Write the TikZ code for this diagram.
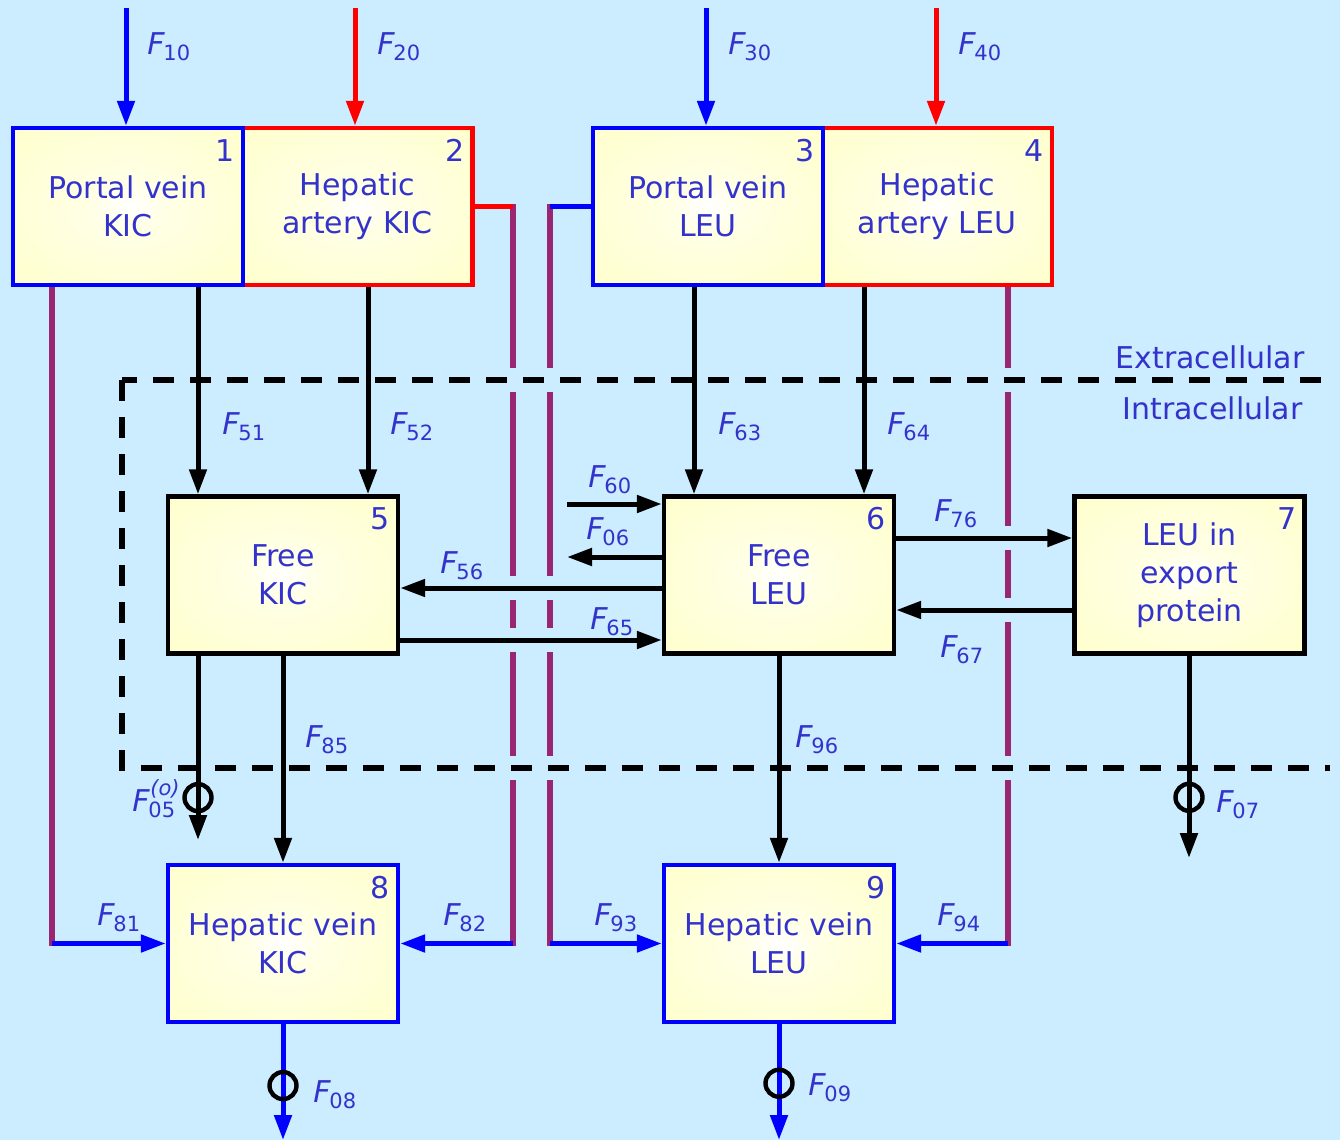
\documentclass[tikz,border=0pt]{standalone}
\usepackage{fontspec}
\setmainfont{DejaVu Sans}
\usepackage{xcolor}
\usepackage{tikz}
\usetikzlibrary{arrows.meta, positioning, calc}

\definecolor{skyback}{RGB}{204,236,255}
\definecolor{inkblue}{RGB}{51,51,204}
\definecolor{boxcream}{RGB}{255,255,204}
\definecolor{vesselpurple}{RGB}{153,38,115}

\pgfdeclareradialshading{creamglow}{\pgfpointorigin}{color(0bp)=(white); color(8bp)=(white!50!boxcream); color(36bp)=(boxcream); color(70bp)=(boxcream)}

\pgfdeclarelayer{back}
\pgfsetlayers{back,main}

% flux label F_{ij}
\newcommand{\flux}[1]{\textit{F}\kern-0.8pt\raisebox{-3pt}{\fontsize{10.5}{11}\selectfont #1}}

\begin{document}
\begin{tikzpicture}[x=0.5pt, y=-0.5pt,
	compart/.style={rectangle, line width=2.2pt, minimum width=115pt, minimum height=78.5pt,
		shade, shading=creamglow, font=\fontsize{15}{19}\selectfont, text=inkblue,
		align=center, inner sep=0pt},
	boxno/.style={anchor=north east, inner sep=0pt, text=inkblue, font=\fontsize{15}{19}\selectfont},
	flab/.style={inner sep=0pt, text=inkblue, font=\fontsize{15}{18}\selectfont},
	flow/.style={line width=2.5pt, -{Triangle[length=12.5pt,width=8.5pt]}},
	kflow/.style={flow, draw=black},
	bflow/.style={flow, draw=blue},
	rflow/.style={flow, draw=red},
	ring/.style={circle, draw=black, line width=2.2pt, minimum size=13.5pt, inner sep=0pt},
	vessel/.style={draw=vesselpurple, line width=2.6pt, line cap=rect},
	cellwall/.style={draw=black, line width=2.6pt, dash pattern=on 10.5pt off 8pt},
	gap/.style={draw=skyback, line width=12pt},
	]
	\useasboundingbox (0,0) rectangle (1340,1140);

	% arterial / portal inflow compartments
	\node[compart, draw=red] (b2) at (357.5,206.5) {Hepatic\\artery KIC};
	\node[compart, draw=blue] (b1) at (128,206.5) {Portal vein\\KIC};
	\node[compart, draw=red] (b4) at (937,206.5) {Hepatic\\artery LEU};
	\node[compart, draw=blue] (b3) at (708,206.5) {Portal vein\\LEU};
	% intracellular compartments
	\node[compart, draw=black] (b5) at (283,575) {Free\\KIC};
	\node[compart, draw=black] (b6) at (779,575) {Free\\LEU};
	\node[compart, draw=black] (b7) at (1189.5,575) {LEU in\\export\\protein};
	% hepatic vein
	\node[compart, draw=blue] (b8) at (283,943.5) {Hepatic vein\\KIC};
	\node[compart, draw=blue] (b9) at (779,943.5) {Hepatic vein\\LEU};

	\foreach \i in {1,...,9}
		\node[boxno] (n\i) at ([xshift=-5pt,yshift=-6.5pt]b\i.north east) {\i};

	% helper coordinates
	\coordinate (c10) at (126,8);
	\coordinate (c20) at (355,8);
	\coordinate (c30) at (706,8);
	\coordinate (c40) at (936,8);
	\coordinate (c51) at (198,0);
	\coordinate (c52) at (368,0);
	\coordinate (c63) at (694,0);
	\coordinate (c64) at (864,0);
	\coordinate (y56) at (0,588);
	\coordinate (y65) at (0,640);
	\coordinate (y76) at (0,538);
	\coordinate (y67) at (0,610);
	\coordinate (s60) at (567,504);
	\coordinate (e06) at (567,557);
	\coordinate (e05) at (198,840);
	\coordinate (e07) at (1189,858);
	\coordinate (e08) at (283,1140);
	\coordinate (e09) at (779,1140);
	\coordinate (v81) at (52,943.5);
	\coordinate (v82) at (513,943.5);
	\coordinate (v93) at (550,943.5);
	\coordinate (v94) at (1008,943.5);
	\coordinate (w1) at (122,380);
	\coordinate (w2) at (122,768);
	\coordinate (w3) at (1336,380);
	\coordinate (w4) at (1330,768);

	% background, shunt vessels and their crossing gaps
	\begin{pgfonlayer}{back}
		\fill[skyback] (0,0) rectangle (1340,1140);
		\draw[vessel] (b1.south -| v81) -- (v81);
		\draw[vessel] (v82 |- b2.east) -- (v82);
		\draw[vessel] (v93 |- b3.west) -- (v93);
		\draw[vessel] (b4.south -| v94) -- (v94);
		\draw[gap] (w3) -- (w1) -- (w2) -- (w4);
		\draw[gap] (b6.west |- y56) -- (b5.east |- y56);
		\draw[gap] (b5.east |- y65) -- (b6.west |- y65);
		\draw[gap] (b6.east |- y76) -- (b7.west |- y76);
		\draw[gap] (b7.west |- y67) -- (b6.east |- y67);
	\end{pgfonlayer}

	% cell membrane
	\draw[cellwall, dash phase=3pt] (w1) -- (w3);
	\draw[cellwall] (w1) -- (w2) -- (w4);
	\node[flab, anchor=east] (extra) at (1305,357) {Extracellular};
	\node[flab, anchor=east] (intra) at (1303,408) {Intracellular};

	% inputs
	\draw[bflow] (c10) -- (c10 |- b1.north);
	\draw[rflow] (c20) -- (c20 |- b2.north);
	\draw[bflow] (c30) -- (c30 |- b3.north);
	\draw[rflow] (c40) -- (c40 |- b4.north);
	\draw[red, line width=2.3pt] (b2.east) -- (v82 |- b2.east);
	\draw[blue, line width=2.3pt] (b3.west) -- (v93 |- b3.west);

	% uptake into the cell
	\draw[kflow] (b1.south -| c51) -- (b5.north -| c51);
	\draw[kflow] (b2.south -| c52) -- (b5.north -| c52);
	\draw[kflow] (b3.south -| c63) -- (b6.north -| c63);
	\draw[kflow] (b4.south -| c64) -- (b6.north -| c64);
	\draw[kflow] (s60) -- (s60 -| b6.west);
	\draw[kflow] (e06 -| b6.west) -- (e06);

	% exchanges inside the cell
	\draw[kflow] (b6.west |- y56) -- (b5.east |- y56);
	\draw[kflow] (b5.east |- y65) -- (b6.west |- y65);
	\draw[kflow] (b6.east |- y76) -- (b7.west |- y76);
	\draw[kflow] (b7.west |- y67) -- (b6.east |- y67);

	% release and losses
	\draw[kflow] (b5.south -| e05) -- node[ring, pos=0.77] (r05) {} (e05);
	\draw[kflow] (b5.south) -- (b8.north);
	\draw[kflow] (b6.south) -- (b9.north);
	\draw[kflow] (b7.south -| e07) -- node[ring, pos=0.70] (r07) {} (e07);
	\draw[bflow] (b8.south) -- node[ring, pos=0.53] (r08) {} (e08);
	\draw[bflow] (b9.south) -- node[ring, pos=0.51] (r09) {} (e09);

	% shunts into hepatic vein
	\draw[bflow] (v81) -- (b8.west);
	\draw[bflow] (v82) -- (b8.east);
	\draw[bflow] (v93) -- (b9.west);
	\draw[bflow] (v94) -- (b9.east);

	% flux labels
	\node[flab, anchor=west] (l10) at (147,47) {\flux{10}};
	\node[flab, anchor=west] (l20) at (377,47) {\flux{20}};
	\node[flab, anchor=west] (l30) at (728,47) {\flux{30}};
	\node[flab, anchor=west] (l40) at (958,47) {\flux{40}};
	\node[flab, anchor=west] (l51) at (222,427) {\flux{51}};
	\node[flab, anchor=west] (l52) at (390,427) {\flux{52}};
	\node[flab, anchor=west] (l63) at (718,427) {\flux{63}};
	\node[flab, anchor=west] (l64) at (887,427) {\flux{64}};
	\node[flab, anchor=west] (l60) at (588,480) {\flux{60}};
	\node[flab, anchor=west] (l06) at (586,532) {\flux{06}};
	\node[flab, anchor=west] (l56) at (440,566) {\flux{56}};
	\node[flab, anchor=west] (l65) at (590,622) {\flux{65}};
	\node[flab, anchor=west] (l76) at (934,514) {\flux{76}};
	\node[flab, anchor=west] (l67) at (940,650) {\flux{67}};
	\node[flab, anchor=west] (l85) at (305,740) {\flux{85}};
	\node[flab, anchor=west] (l96) at (795,740) {\flux{96}};
	\node[flab, anchor=west] (l05) at (132,799)
		{\textit{F}\kern-0.8pt\rlap{\raisebox{8pt}{\fontsize{10.5}{11}\selectfont\kern1pt\textit{(o)}}}\raisebox{-3pt}{\fontsize{10.5}{11}\selectfont 05}};
	\node[flab, anchor=west] (l07) at (1216,805) {\flux{07}};
	\node[flab, anchor=west] (l08) at (313,1095) {\flux{08}};
	\node[flab, anchor=west] (l09) at (808,1088) {\flux{09}};
	\node[flab, anchor=west] (l81) at (97,918) {\flux{81}};
	\node[flab, anchor=west] (l82) at (443,918) {\flux{82}};
	\node[flab, anchor=west] (l93) at (594,918) {\flux{93}};
	\node[flab, anchor=west] (l94) at (937,918) {\flux{94}};
\end{tikzpicture}
\end{document}
